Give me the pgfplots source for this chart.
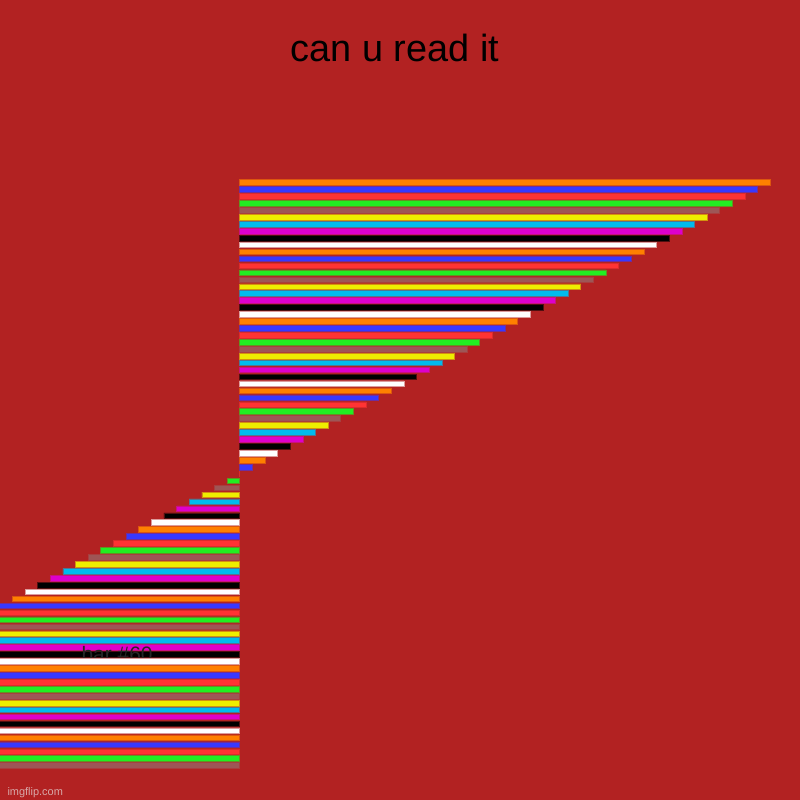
\documentclass[border=0pt]{standalone}
\usepackage{pgfplots}
\pgfplotsset{compat=1.18}
\usepackage{fontspec}
\setmainfont{Liberation Sans}

\definecolor{bgred}{HTML}{B22222}
\definecolor{corange}{HTML}{FF8000}
\definecolor{cblue}{HTML}{3838FF}
\definecolor{cred}{HTML}{FF3333}
\definecolor{cgreen}{HTML}{22EE22}
\definecolor{cgray}{HTML}{9E5656}
\definecolor{cyellow}{HTML}{EEEE00}
\definecolor{ccyan}{HTML}{00BBEE}
\definecolor{cmagenta}{HTML}{DD00CC}
\definecolor{cblack}{HTML}{000000}
\definecolor{cwhite}{HTML}{FFFFFF}
\definecolor{wmark}{HTML}{D8A8A8}

\begin{document}
\begin{tikzpicture}[x=1bp,y=1bp]
	\useasboundingbox (0,0) rectangle (800,800);
	\fill[bgred] (0,0) rectangle (800,800);
	\node[anchor=base,font=\fontsize{38}{44}\selectfont] at (395,738) {can u read it};
	\node[anchor=base west,font=\fontsize{11}{13}\selectfont,text=wmark] at (4,4) {imgflip.com};
	\begin{axis}[
		at={(0bp,27.56bp)}, anchor=south west,
		width=800bp, height=596.84bp, scale only axis,
		hide axis,
		xmin=-18.98, xmax=44.36,
		ymin=-43, ymax=43,
		every axis plot/.append style={xbar, bar width=5.6bp, bar shift=0pt, line width=0.6bp},
		]
		\addplot[fill=corange,draw=corange!55!bgred] coordinates {
			(42,42) (32,32) (22,22) (12,12) (2,2) (-8,-8) (-18,-18) (-28,-28) (-38,-38)};
		\addplot[fill=cblue,draw=cblue!55!bgred] coordinates {
			(41,41) (31,31) (21,21) (11,11) (1,1) (-9,-9) (-19,-19) (-29,-29) (-39,-39)};
		\addplot[fill=cred,draw=cred!55!bgred] coordinates {
			(40,40) (30,30) (20,20) (10,10) (0,0) (-10,-10) (-20,-20) (-30,-30) (-40,-40)};
		\addplot[fill=cgreen,draw=cgreen!55!bgred] coordinates {
			(39,39) (29,29) (19,19) (9,9) (-1,-1) (-11,-11) (-21,-21) (-31,-31) (-41,-41)};
		\addplot[fill=cgray,draw=cgray!55!bgred] coordinates {
			(38,38) (28,28) (18,18) (8,8) (-2,-2) (-12,-12) (-22,-22) (-32,-32) (-42,-42)};
		\addplot[fill=cyellow,draw=cyellow!55!bgred] coordinates {
			(37,37) (27,27) (17,17) (7,7) (-3,-3) (-13,-13) (-23,-23) (-33,-33)};
		\addplot[fill=ccyan,draw=ccyan!55!bgred] coordinates {
			(36,36) (26,26) (16,16) (6,6) (-4,-4) (-14,-14) (-24,-24) (-34,-34)};
		\addplot[fill=cmagenta,draw=cmagenta!55!bgred] coordinates {
			(35,35) (25,25) (15,15) (5,5) (-5,-5) (-15,-15) (-25,-25) (-35,-35)};
		\addplot[fill=cblack,draw=cblack!55!bgred] coordinates {
			(34,34) (24,24) (14,14) (4,4) (-6,-6) (-16,-16) (-26,-26) (-36,-36)};
		\addplot[fill=cwhite,draw=cwhite!55!bgred] coordinates {
			(33,33) (23,23) (13,13) (3,3) (-7,-7) (-17,-17) (-37,-37)};
		% the label lies over the bars above it and under the white bar below it
		\node[anchor=base,font=\fontsize{21}{24}\selectfont,text=black!85]
			at (axis cs:-9.71,-26.95) {bar \#60};
		\addplot[fill=cwhite,draw=cwhite!55!bgred] coordinates {(-27,-27)};
	\end{axis}
\end{tikzpicture}
\end{document}
